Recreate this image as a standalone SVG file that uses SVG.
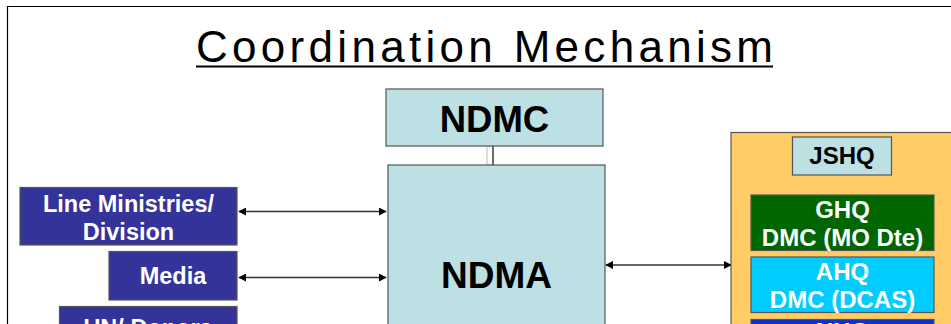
<svg xmlns="http://www.w3.org/2000/svg" width="951" height="324" viewBox="0 0 951 324">
<defs>
<marker id="ah" viewBox="0 0 10 10" refX="9" refY="5" markerWidth="8" markerHeight="8" markerUnits="userSpaceOnUse" orient="auto-start-reverse">
<path d="M0,0 L10,5 L0,10 z" fill="#000"/>
</marker>
<style>
.lbl{font-family:"Liberation Sans",Arial,sans-serif;font-weight:bold;text-anchor:middle}
.w{fill:#fff}
.k{fill:#000}
.box{stroke:#555;stroke-width:1.2}
.con{stroke:#333;stroke-width:1.3;fill:none}
</style>
</defs>
<rect x="0" y="0" width="951" height="324" fill="#fff"/>
<path d="M7.5,324 V6.5 H951" fill="none" stroke="#000" stroke-width="1.2"/>
<text x="484.5" y="62" font-family="'Liberation Sans',Arial,sans-serif" font-size="44" textLength="577" lengthAdjust="spacing" text-anchor="middle" fill="#000">Coordination Mechanism</text>
<rect x="196" y="65.5" width="577" height="2" fill="#000"/>

<g id="connectors">
<rect x="487" y="146" width="6" height="19" fill="#fff" stroke="#bbb" stroke-width="1"/>
<line x1="493" y1="146" x2="493" y2="165" stroke="#222" stroke-width="1.2"/>
<line class="con" x1="239" y1="211.5" x2="386" y2="211.5" marker-start="url(#ah)" marker-end="url(#ah)"/>
<line class="con" x1="239" y1="277.5" x2="386" y2="277.5" marker-start="url(#ah)" marker-end="url(#ah)"/>
<line class="con" x1="606" y1="265" x2="731" y2="265" marker-start="url(#ah)" marker-end="url(#ah)"/>
<line class="con" x1="843" y1="175" x2="843" y2="195" marker-end="url(#ah)"/>
</g>

<g id="ndmc">
<rect class="box" x="386" y="89" width="217" height="57" fill="#BCE0E3"/>
<text class="lbl k" x="494.5" y="132" font-size="36.5">NDMC</text>
</g>
<g id="ndma">
<rect class="box" x="388" y="165" width="217" height="175" fill="#BCE0E3"/>
<text class="lbl k" x="496.5" y="288" font-size="37">NDMA</text>
</g>

<g id="line-ministries">
<rect class="box" x="20" y="187.5" width="217" height="57.5" fill="#333399"/>
<text class="lbl w" x="128.5" y="211.5" font-size="23.5">Line Ministries/</text>
<text class="lbl w" x="128.5" y="240" font-size="23.5">Division</text>
</g>
<g id="media">
<rect class="box" x="109" y="251.5" width="128" height="48.5" fill="#333399"/>
<text class="lbl w" x="173" y="284" font-size="23.5">Media</text>
</g>
<g id="un-donors">
<rect class="box" x="59.5" y="306.5" width="177.5" height="50" fill="#333399"/>
<text class="lbl w" x="148" y="336" font-size="23.5">UN/ Donors</text>
</g>

<g id="armed-forces">
<rect x="731" y="132.5" width="230" height="220" fill="#FFCC66" stroke="#555" stroke-width="1.2"/>
</g>
<g id="jshq">
<rect class="box" x="792.5" y="137" width="99" height="38" fill="#BCE0E3"/>
<text class="lbl k" x="842" y="164" font-size="24">JSHQ</text>
</g>
<g id="ghq">
<rect class="box" x="751" y="195" width="183" height="55.5" fill="#006600"/>
<text class="lbl w" x="842.5" y="218" font-size="24">GHQ</text>
<text class="lbl w" x="842.5" y="246" font-size="24">DMC (MO Dte)</text>
</g>
<g id="ahq">
<rect class="box" x="751" y="257" width="183" height="55.5" fill="#00CCFF"/>
<text class="lbl w" x="842.5" y="279.5" font-size="24">AHQ</text>
<text class="lbl w" x="842.5" y="307.5" font-size="24">DMC (DCAS)</text>
</g>
<g id="nhq">
<rect class="box" x="751" y="319.5" width="183" height="55.5" fill="#0A33CC"/>
<text class="lbl w" x="842.5" y="339.5" font-size="24">NHQ</text>
</g>
</svg>
